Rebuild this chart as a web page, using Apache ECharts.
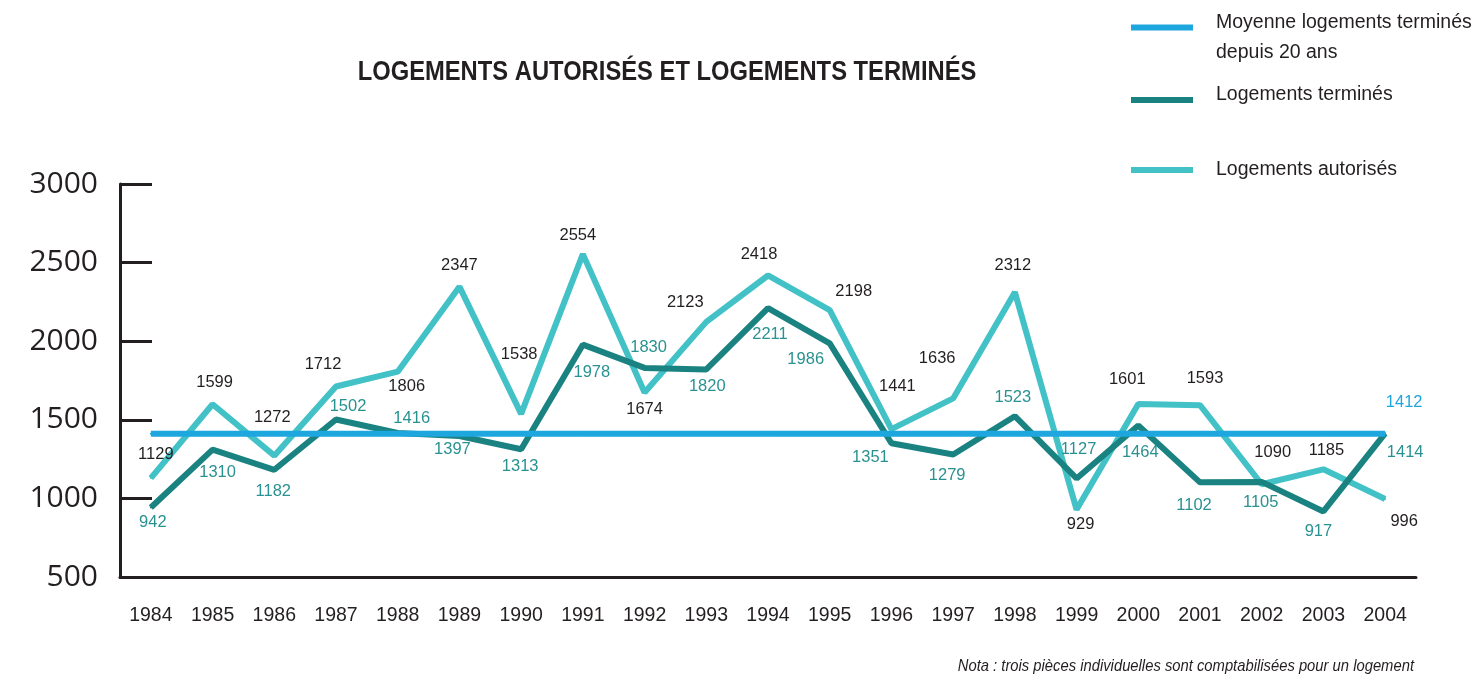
<!DOCTYPE html>
<html>
<head>
<meta charset="utf-8">
<script src="https://cdn.jsdelivr.net/npm/echarts@6/dist/echarts.min.js"></script>
<style>
  html, body { margin: 0; padding: 0; background: #fff; }
  #main { width: 1477px; height: 680px; }
</style>
</head>
<body>
<div id="main"></div>
<script>
var years = ['1984', '1985', '1986', '1987', '1988', '1989', '1990', '1991', '1992', '1993', '1994',
  '1995', '1996', '1997', '1998', '1999', '2000', '2001', '2002', '2003', '2004'];
var autorises = [1129, 1599, 1272, 1712, 1806, 2347, 1538, 2554, 1674, 2123, 2418,
  2198, 1441, 1636, 2312, 929, 1601, 1593, 1090, 1185, 996];
var termines = [942, 1310, 1182, 1502, 1416, 1397, 1313, 1978, 1830, 1820, 2211,
  1986, 1351, 1279, 1523, 1127, 1464, 1102, 1105, 917, 1414];
var moyenne = [1412, 1412, 1412, 1412, 1412, 1412, 1412, 1412, 1412, 1412, 1412,
  1412, 1412, 1412, 1412, 1412, 1412, 1412, 1412, 1412, 1412];

// where each value label sits relative to its point (px)
var autorisesLabelPos = [[5, -24], [2, -22], [-2, -38], [-13, -22], [9, 15], [0, -21], [-2, -59],
  [-5, -19], [0, 17], [-21, -19], [-9, -21], [24, -19], [6, -43], [-16, -40], [-2, -27],
  [4, 15], [-11, -24], [5, -27], [11, -32], [3, -19], [19, 22]];
var terminesLabelPos = [[2, 15], [5, 23], [-1, 22], [12, -13], [14, -15], [-7, 13], [-1, 17],
  [9, 28], [4, -20], [1, 17], [2, 26], [-24, 16], [-21, 14], [-6, 21], [-2, -19],
  [2, -29], [2, 27], [-6, 23], [-1, 21], [-5, 20], [20, 19]];
var moyenneLabelPos = [19, -31];

var SANS = "'Liberation Sans', Arial, sans-serif";
var INK = '#231f20';
var BLUE = '#1ea7de';
var DARK = '#1a8381';
var LIGHT = '#42c1c7';
var DARK_TEXT = '#2a9191';

var nomMoyenne = 'Moyenne logements terminés depuis 20 ans';
var nomTermines = 'Logements terminés';
var nomAutorises = 'Logements autorisés';

function withLabels(values, offsets, color) {
  return values.map(function (v, i) {
    return {
      value: v,
      label: { offset: offsets[i], color: color }
    };
  });
}

var labelBase = {
  show: true,
  position: 'inside',
  align: 'center',
  verticalAlign: 'middle',
  fontFamily: SANS,
  fontSize: 16.5
};

var legendRich = {
  a: { fontFamily: SANS, fontSize: 19.5, lineHeight: 30, color: INK, padding: [0, 0, 0, 18] },
  s: { fontSize: 1, lineHeight: 20 },
  t: { fontSize: 1, lineHeight: 10 }
};

function legendBox(name, top, fmt) {
  return {
    data: [name],
    left: 1131,
    top: top,
    padding: 0,
    icon: 'rect',
    itemWidth: 62,
    itemHeight: 6,
    selectedMode: false,
    formatter: fmt,
    textStyle: { color: INK, rich: legendRich }
  };
}

var chartDom = document.getElementById('main');
var myChart = echarts.init(chartDom);
var option;

option = {
  animation: false,
  backgroundColor: '#ffffff',
  graphic: [
    {
      type: 'text',
      x: 667,
      y: 73,
      scaleX: 0.88,
      style: {
        text: 'LOGEMENTS AUTORISÉS ET LOGEMENTS TERMINÉS',
        font: 'bold 27px ' + SANS,
        fill: INK,
        align: 'center',
        verticalAlign: 'middle'
      }
    },
    {
      type: 'text',
      x: 1414,
      y: 666,
      scaleX: 0.87,
      style: {
        text: 'Nota : trois pièces individuelles sont comptabilisées pour un logement',
        font: 'italic 17px ' + SANS,
        fill: INK,
        align: 'right',
        verticalAlign: 'middle'
      }
    }
  ],
  legend: [
    legendBox(nomMoyenne, -3, function () {
      return '{s| }\n{a|Moyenne logements terminés}\n{a|depuis 20 ans}';
    }),
    legendBox(nomTermines, 85, function (name) {
      return '{a|' + name + '}\n{t| }';
    }),
    legendBox(nomAutorises, 160, function (name) {
      return '{a|' + name + '}';
    })
  ],
  grid: {
    left: 120,
    right: 61,
    top: 184,
    bottom: 103,
    containLabel: false
  },
  xAxis: {
    type: 'category',
    data: years,
    boundaryGap: true,
    axisLine: { lineStyle: { color: INK, width: 3 } },
    axisTick: { inside: true, length: 9, interval: 0, lineStyle: { color: INK, width: 3 } },
    axisLabel: {
      interval: 0,
      color: INK,
      fontFamily: SANS,
      fontSize: 19.5,
      margin: 29
    },
    splitLine: { show: false }
  },
  yAxis: {
    type: 'value',
    min: 500,
    max: 3000,
    interval: 500,
    axisLine: { show: true, lineStyle: { color: INK, width: 3 } },
    axisTick: { show: true, inside: true, length: 32, lineStyle: { color: INK, width: 3 } },
    axisLabel: {
      color: INK,
      fontFamily: "'Open Sans', 'Noto Sans', sans-serif",
      fontSize: 30,
      margin: 22,
      formatter: function (v) { return String(v); }
    },
    splitLine: { show: false }
  },
  series: [
    {
      name: nomAutorises,
      type: 'line',
      data: withLabels(autorises, autorisesLabelPos, INK),
      symbol: 'circle',
      symbolSize: 2,
      showAllSymbol: true,
      color: LIGHT,
      itemStyle: { color: LIGHT },
      lineStyle: { color: LIGHT, width: 6 },
      label: labelBase,
      z: 2
    },
    {
      name: nomTermines,
      type: 'line',
      data: withLabels(termines, terminesLabelPos, DARK_TEXT),
      symbol: 'circle',
      symbolSize: 2,
      showAllSymbol: true,
      color: DARK,
      itemStyle: { color: DARK },
      lineStyle: { color: DARK, width: 6 },
      label: labelBase,
      z: 3
    },
    {
      name: nomMoyenne,
      type: 'line',
      data: moyenne.map(function (v, i) {
        var last = i === moyenne.length - 1;
        return {
          value: v,
          label: { show: last, offset: moyenneLabelPos, color: BLUE }
        };
      }),
      symbol: 'circle',
      symbolSize: 2,
      showAllSymbol: true,
      color: BLUE,
      itemStyle: { color: BLUE },
      lineStyle: { color: BLUE, width: 6 },
      label: labelBase,
      z: 4
    }
  ]
};

option && myChart.setOption(option);
</script>
</body>
</html>
